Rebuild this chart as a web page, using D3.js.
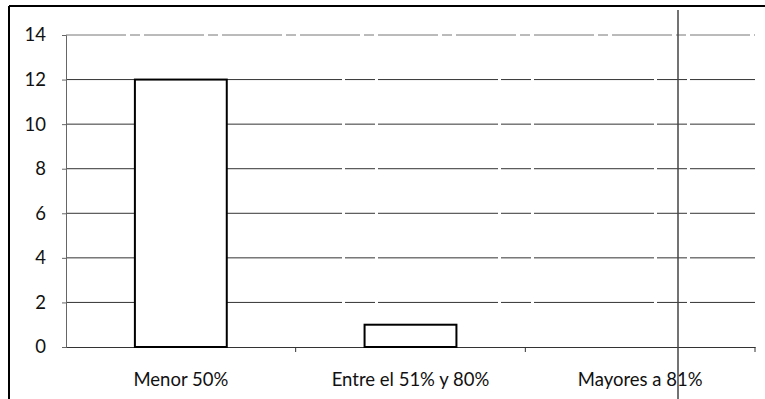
<!DOCTYPE html>
<html><head><meta charset="utf-8">
<script src="https://cdn.jsdelivr.net/npm/d3@7"></script>
<style>body{margin:0;background:#fff}svg{display:block}</style>
</head><body>
<svg id="c" width="765" height="399"></svg>
<script>
const categories = ["Menor 50%", "Entre el 51% y 80%", "Mayores a 81%"];
const values = [12, 1, 0];
const yTicks = [0, 2, 4, 6, 8, 10, 12, 14];

const svg = d3.select("#c");
const m = {left: 66, right: 10, top: 35, bottom: 52};
const W = 765, H = 399;
const FONT = "Lato, 'Open Sans', sans-serif";
const xb = d3.scaleBand().domain(categories).range([m.left, W - m.right]);
const y = d3.scaleLinear().domain([0, 14]).range([H - m.bottom, m.top]);

// outer frame (partially visible)
svg.append("line").attr("x1", 9).attr("x2", W).attr("y1", 6).attr("y2", 6).attr("stroke", "#000").attr("stroke-width", 2);
svg.append("line").attr("x1", 9).attr("x2", 9).attr("y1", 6).attr("y2", H).attr("stroke", "#000").attr("stroke-width", 2);

// gridlines
svg.append("g").selectAll("line").data(yTicks.filter(d => d > 0)).join("line")
  .attr("x1", m.left).attr("x2", W - m.right)
  .attr("y1", d => y(d)).attr("y2", d => y(d))
  .attr("stroke", d => d === 14 ? "#777" : "#333").attr("stroke-width", 1)
  .attr("stroke-dasharray", d => d === 14 ? "60,4,10,4" : "120,3,30,3");

// y axis
const ya = svg.append("g").attr("transform", `translate(${m.left},0)`)
  .call(d3.axisLeft(y).tickValues(yTicks).tickSize(4).tickPadding(16));
ya.select(".domain").attr("stroke", "#666");
ya.selectAll("line").attr("stroke", "#666");
ya.selectAll("text").attr("font-family", FONT).attr("font-size", 18.5).attr("fill", "#111");

// x axis
const xa = svg.append("g").attr("transform", `translate(0,${y(0)})`)
  .call(d3.axisBottom(xb).tickSize(0).tickPadding(0));
xa.select(".domain").attr("stroke", "#333");
xa.selectAll("text").remove();
svg.append("g").selectAll("line").data(categories).join("line")
  .attr("x1", d => xb(d) + xb.bandwidth()).attr("x2", d => xb(d) + xb.bandwidth())
  .attr("y1", y(0)).attr("y2", y(0) + 5).attr("stroke", "#333");
svg.append("g").selectAll("text").data(categories).join("text")
  .attr("x", d => xb(d) + xb.bandwidth() / 2).attr("y", y(0) + 39)
  .attr("text-anchor", "middle").attr("font-family", FONT).attr("font-size", 18.5).attr("fill", "#111")
  .text(d => d);

// bars
svg.append("g").selectAll("rect").data(categories.map((c, i) => ({c, v: values[i]})).filter(d => d.v > 0)).join("rect")
  .attr("x", d => xb(d.c) + xb.bandwidth() * 0.3).attr("width", xb.bandwidth() * 0.4)
  .attr("y", d => y(d.v)).attr("height", d => y(0) - y(d.v))
  .attr("fill", "#fff").attr("stroke", "#000").attr("stroke-width", 2);

// scan artefact vertical line
svg.append("line").attr("x1", 678).attr("x2", 678).attr("y1", 10).attr("y2", H).attr("stroke", "#444").attr("stroke-width", 1.5);
</script>
</body></html>
